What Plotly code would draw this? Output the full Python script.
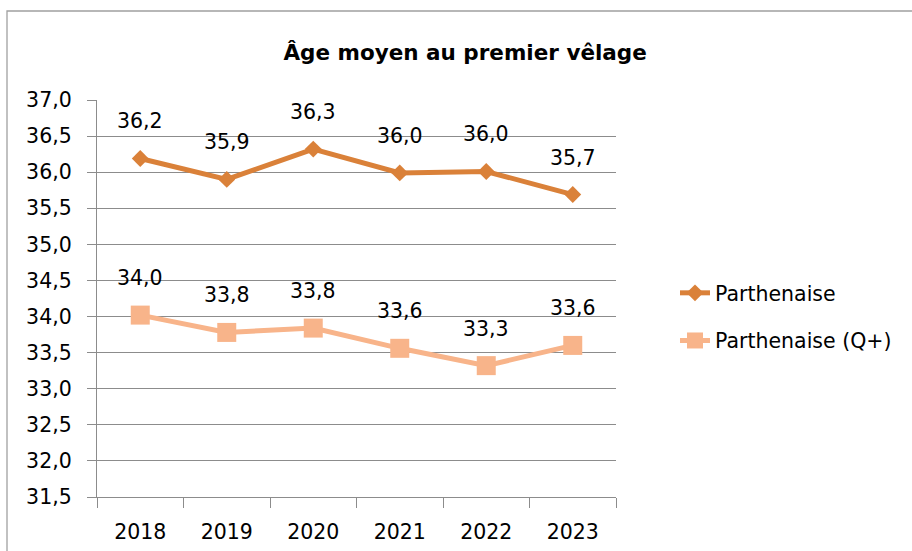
import plotly.graph_objects as go

years = ["2018", "2019", "2020", "2021", "2022", "2023"]
parthenaise = [36.19, 35.90, 36.32, 35.99, 36.01, 35.69]
parthenaise_q = [34.02, 33.78, 33.84, 33.56, 33.32, 33.60]
labels_p = ["36,2", "35,9", "36,3", "36,0", "36,0", "35,7"]
labels_q = ["34,0", "33,8", "33,8", "33,6", "33,3", "33,6"]
y_ticks = [31.5, 32.0, 32.5, 33.0, 33.5, 34.0, 34.5, 35.0, 35.5, 36.0, 36.5, 37.0]

FONT = "DejaVu Sans"
FS = 20.5
C1 = "#DA8139"
C2 = "#F8B48A"
GRID = "#8C8C8C"

fig = go.Figure()
fig.add_trace(go.Scatter(
    x=years, y=parthenaise, name="Parthenaise", mode="lines+markers",
    line=dict(color=C1, width=5),
    marker=dict(symbol="diamond", size=13, color=C1),
    legendgroup="a", hoverinfo="skip"))
fig.add_trace(go.Scatter(
    x=years, y=parthenaise_q, name="Parthenaise (Q+)", mode="lines+markers",
    line=dict(color=C2, width=5),
    marker=dict(symbol="square", size=19, color=C2),
    legendgroup="b", hoverinfo="skip"))

for ys, ls in ((parthenaise, labels_p), (parthenaise_q, labels_q)):
    for i, (y, t) in enumerate(zip(ys, ls)):
        fig.add_annotation(x=i, y=y, text=t, showarrow=False, yshift=37,
                           font=dict(family=FONT, size=FS, color="#000000"))

fig.add_shape(type="rect", xref="paper", yref="paper",
              x0=(7 - 97) / 519, x1=(930 - 97) / 519,
              y0=(497 - 570) / 397, y1=(497 - 11) / 397,
              line=dict(color="#A0A0A0", width=1.3), fillcolor="rgba(0,0,0,0)", layer="below")

fig.update_layout(
    width=912, height=551,
    margin=dict(l=97, r=296, t=100, b=54),
    paper_bgcolor="white", plot_bgcolor="white",
    separators=", ",
    font=dict(family=FONT, size=FS, color="#000000"),
    title=dict(text="<b>Âge moyen au premier vêlage</b>", x=0.51, xanchor="center",
               y=1 - 52 / 551, yanchor="middle", font=dict(family=FONT, size=21.5, color="#000000")),
    showlegend=True,
    legend=dict(x=(675 - 97) / 519, xanchor="left", y=(497 - 317) / 397, yanchor="middle",
                tracegroupgap=18, font=dict(family=FONT, size=FS, color="#000000"),
                bgcolor="rgba(0,0,0,0)"),
    xaxis=dict(type="category", categoryarray=years, tickson="boundaries",
               ticks="outside", ticklen=10, tickcolor=GRID, tickwidth=1.3,
               showline=True, linecolor=GRID, linewidth=1.3, showgrid=False,
               range=[-0.5, 5.5], tickfont=dict(family=FONT, size=FS), zeroline=False,
               ticklabelstandoff=16, automargin=False),
    yaxis=dict(range=[31.5, 37.0], tickvals=y_ticks, tickformat=".1f",
               ticks="outside", ticklen=9, tickcolor=GRID, tickwidth=1.3,
               showgrid=True, gridcolor=GRID, gridwidth=1.3,
               showline=True, linecolor=GRID, linewidth=1.3, zeroline=False,
               ticklabelstandoff=11, tickfont=dict(family=FONT, size=FS), automargin=False),
)

fig.write_html("out.html", config={"displayModeBar": False},
               post_script="document.body.style.margin='0px';")
